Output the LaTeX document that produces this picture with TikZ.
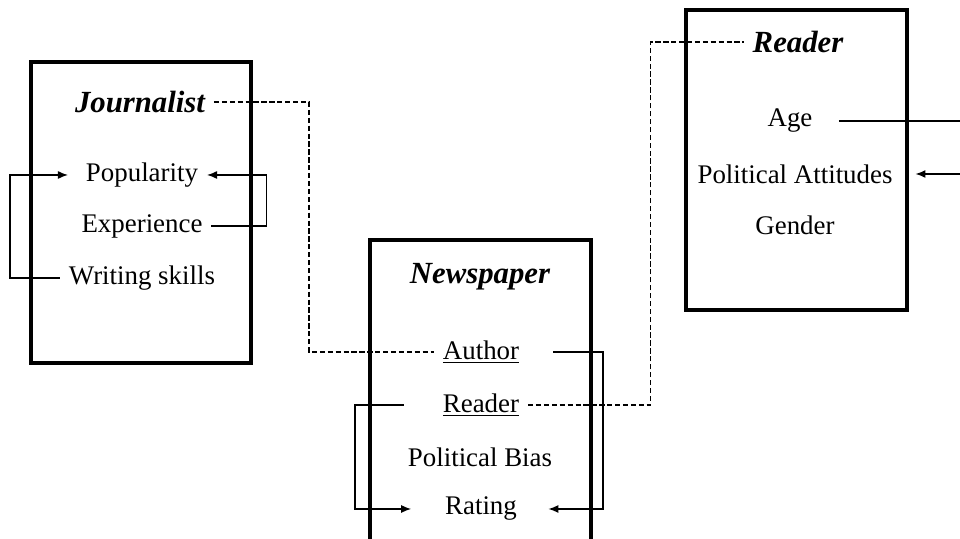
\documentclass[tikz,border=0pt]{standalone}
\usepackage{fontspec}
\setmainfont{Liberation Serif}
\usetikzlibrary{arrows.meta}

\begin{document}
\begin{tikzpicture}[
  item/.style={font=\fontsize{15.3}{18}\selectfont,inner sep=0pt,outer xsep=0.18cm},
  title/.style={font=\fontsize{17.5}{20}\selectfont\bfseries\itshape,inner sep=0pt,outer xsep=0.18cm},
  frame/.style={line width=2.3pt},
  link/.style={line width=0.8pt},
  arr/.style={link,-{Latex[length=2mm,width=1.6mm]}},
  ref/.style={link,dashed,dash pattern=on 3pt off 1.5pt}]
\useasboundingbox (0,0) rectangle (19.2,10.78);
% boxes
\draw[frame] (0.62,3.52) rectangle (5.02,9.54);
\draw[frame] (7.4,-0.3) rectangle (11.82,5.98);
\draw[frame] (13.72,4.58) rectangle (18.14,10.58);
% journalist
\node[title] at (2.8,8.74) (jour) {Journalist};
\node[item] at (2.84,7.28) (pop) {Popularity};
\node[item] at (2.84,6.26) (exp) {Experience};
\node[item] at (2.84,5.22) (ws) {Writing skills};
% newspaper
\node[title] at (9.6,5.24) (paper) {Newspaper};
\node[item] at (9.62,3.74) (auth) {\underline{Author}};
\node[item] at (9.62,2.68) (rdr) {\underline{Reader}};
\node[item] at (9.6,1.64) (bias) {Political Bias};
\node[item] at (9.62,0.6) (rate) {Rating};
% reader
\node[title] at (15.96,9.94) (reader) {Reader};
\node[item] at (15.8,8.36) (age) {Age};
\node[item] at (15.9,7.3) (att) {Political Attitudes};
\node[item] at (15.9,6.28) (gen) {Gender};
\coordinate (ageout) at (19.4,8.36);
\coordinate (attin) at (19.4,7.3);
% links
\draw[arr] (ws.west) -- ++(-1.0,0) |- ([xshift=-0.18cm]pop.west);
\draw[arr] (exp.east) -- ++(1.1,0) |- (pop.east);
\draw[ref] (jour.east) -- ++(1.9,0) |- (auth.west);
\draw[arr] ([xshift=0.5cm]auth.east) -- ++(1.0,0) |- ([xshift=0.45cm]rate.east);
\draw[arr] ([xshift=-0.6cm]rdr.west) -- ++(-0.98,0) |- ([xshift=-0.5cm]rate.west);
\draw[ref] (rdr.east) -- ++(2.45,0) |- (reader.west);
\draw[link] ([xshift=0.35cm]age.east) -- (ageout);
\draw[arr] (attin) -- ([xshift=0.28cm]att.east);
\end{tikzpicture}
\end{document}
